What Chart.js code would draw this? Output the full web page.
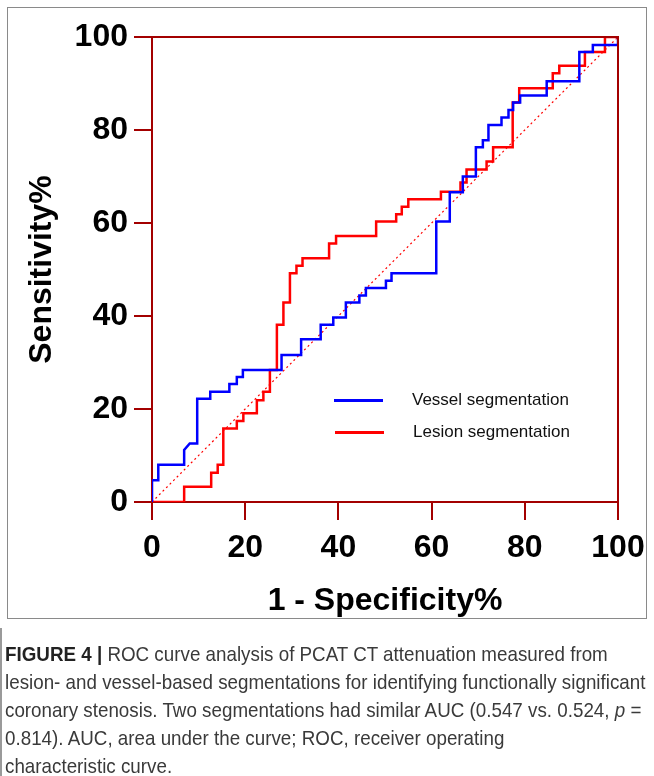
<!DOCTYPE html>
<html>
<head>
<meta charset="utf-8">
<script src="https://cdn.jsdelivr.net/npm/chart.js@4.4.1/dist/chart.umd.min.js"></script>
<style>
  html, body { margin: 0; padding: 0; background: #fff; }
  body { width: 654px; height: 776px; position: relative; overflow: hidden; }
  #frame { position: absolute; left: 7px; top: 7px; width: 640px; height: 612px; border: 1px solid #8a8a8a; box-sizing: border-box; }
  #wrap { position: absolute; left: 0; top: 0; width: 654px; height: 640px; }
  .leg { position: absolute; font-family: "Liberation Sans", Arial, sans-serif; font-size: 17px; color: #111; line-height: 20px; }
  .legline { position: absolute; height: 2.5px; }
  #capbar { position: absolute; left: 0; top: 628px; width: 2px; height: 148px; background: #9a9a9a; }
  #caption { position: absolute; left: 5px; top: 640px; width: 720px; font-family: "Liberation Sans", Arial, sans-serif; font-size: 21px; line-height: 28px; color: #3a3a3a; white-space: nowrap; transform: scaleX(0.895); transform-origin: 0 0; }
  #caption b { color: #222; }
</style>
</head>
<body>
<div id="frame"></div>
<div id="wrap"><canvas id="c" width="654" height="640"></canvas></div>
<div class="legline" style="left:334px; top:399px; width:49px; background:#0000ff;"></div>
<div class="leg" style="left:412px; top:390px;">Vessel segmentation</div>
<div class="legline" style="left:335px; top:431px; width:49px; background:#ff0000;"></div>
<div class="leg" style="left:413px; top:422px;">Lesion segmentation</div>
<div id="capbar"></div>
<div id="caption">
<div><b>FIGURE 4 |</b> ROC curve analysis of PCAT CT attenuation measured from</div>
<div>lesion- and vessel-based segmentations for identifying functionally significant</div>
<div>coronary stenosis. Two segmentations had similar AUC (0.547 vs. 0.524, <i>p</i> =</div>
<div>0.814). AUC, area under the curve; ROC, receiver operating</div>
<div>characteristic curve.</div>
</div>
<script>
// ---- data (1 - specificity %, sensitivity %) ----
const vesselX = [0, 0, 1.35, 1.35, 6.9, 6.9, 8.1, 9.7, 9.7, 12.5, 12.5, 16.6, 16.6, 18.2, 18.2, 19.5, 19.5, 27.8, 27.8, 32.0, 32.0, 36.2, 36.2, 38.9, 38.9, 41.6, 41.6, 44.5, 44.5, 45.9, 45.9, 50.2, 50.2, 51.4, 51.4, 61.0, 61.0, 63.9, 63.9, 66.7, 66.7, 69.5, 69.5, 71.0, 71.0, 72.2, 72.2, 75.0, 75.0, 76.5, 76.5, 77.5, 77.5, 79.0, 79.0, 84.7, 84.7, 91.7, 91.7, 94.6, 94.6, 100, 100];
const vesselY = [0, 4.7, 4.7, 8.0, 8.0, 11.2, 12.6, 12.6, 22.2, 22.2, 23.7, 23.7, 25.4, 25.4, 26.9, 26.9, 28.4, 28.4, 31.6, 31.6, 35.0, 35.0, 38.1, 38.1, 39.7, 39.7, 42.9, 42.9, 44.4, 44.4, 46.0, 46.0, 47.6, 47.6, 49.2, 49.2, 60.3, 60.3, 66.6, 66.6, 70.0, 70.0, 76.3, 76.3, 77.8, 77.8, 81.1, 81.1, 82.7, 82.7, 84.3, 84.3, 85.9, 85.9, 87.4, 87.4, 90.5, 90.5, 96.8, 96.8, 98.3, 98.3, 100];
const lesionX = [0, 6.9, 6.9, 12.7, 12.7, 14.1, 14.1, 15.3, 15.3, 18.2, 18.2, 19.6, 19.6, 22.5, 22.5, 23.9, 23.9, 25.3, 25.3, 26.8, 26.8, 28.2, 28.2, 29.6, 29.6, 31.0, 31.0, 32.3, 32.3, 38.0, 38.0, 39.5, 39.5, 48.1, 48.1, 52.4, 52.4, 53.6, 53.6, 55.0, 55.0, 62.0, 62.0, 66.2, 66.2, 67.5, 67.5, 71.8, 71.8, 73.2, 73.2, 77.4, 77.4, 78.8, 78.8, 86.0, 86.0, 87.4, 87.4, 92.9, 92.9, 97.2, 97.2, 100];
const lesionY = [0, 0, 3.3, 3.3, 6.3, 6.3, 8.0, 8.0, 15.8, 15.8, 17.4, 17.4, 19.1, 19.1, 21.9, 21.9, 23.7, 23.7, 28.4, 28.4, 38.1, 38.1, 42.9, 42.9, 49.2, 49.2, 50.8, 50.8, 52.4, 52.4, 55.6, 55.6, 57.2, 57.2, 60.3, 60.3, 61.9, 61.9, 63.5, 63.5, 65.1, 65.1, 66.7, 66.7, 68.7, 68.7, 71.5, 71.5, 73.2, 73.2, 76.3, 76.3, 85.9, 85.9, 89.0, 89.0, 92.2, 92.2, 93.8, 93.8, 96.8, 96.8, 100, 100];
const refX = [0, 100];
const refY = [0, 100];
const xTicks = [0, 20, 40, 60, 80, 100];
const yTicks = [0, 20, 40, 60, 80, 100];
const seriesNames = ["Vessel segmentation", "Lesion segmentation"];
const xTitle = "1 - Specificity%";
const yTitle = "Sensitivity%";

const zip = (xs, ys) => xs.map((x, i) => ({ x: x, y: ys[i] }));
const AXIS = '#a30000';
const FONT = '"Liberation Sans", Arial, sans-serif';

const framePlugin = {
  id: 'frameTR',
  afterDatasetsDraw(chart) {
    const { ctx, chartArea: a } = chart;
    ctx.save();
    ctx.strokeStyle = AXIS;
    ctx.lineWidth = 2;
    ctx.beginPath();
    ctx.moveTo(a.left, a.top);
    ctx.lineTo(a.right, a.top);
    ctx.lineTo(a.right, a.bottom);
    ctx.stroke();
    ctx.restore();
  }
};

new Chart(document.getElementById('c'), {
  type: 'scatter',
  data: {
    datasets: [
      { label: seriesNames[0], data: zip(vesselX, vesselY), showLine: true, borderColor: '#0000ff', borderWidth: 2.5, pointRadius: 0, fill: false, tension: 0 },
      { label: seriesNames[1], data: zip(lesionX, lesionY), showLine: true, borderColor: '#ff0000', borderWidth: 2.5, pointRadius: 0, fill: false, tension: 0 },
      { label: 'ref', data: zip(refX, refY), showLine: true, borderColor: '#ff0000', borderWidth: 1.2, borderDash: [2, 3], pointRadius: 0, fill: false }
    ]
  },
  options: {
    responsive: false,
    animation: false,
    layout: { padding: { top: 37, right: 36, left: 0, bottom: 0 } },
    plugins: { legend: { display: false }, tooltip: { enabled: false } },
    scales: {
      x: {
        type: 'linear', min: 0, max: 100,
        afterFit(s) { s.height = 138; },
        afterBuildTicks(s) { s.ticks = xTicks.map(v => ({ value: v })); },
        grid: { drawOnChartArea: false, drawTicks: true, tickLength: 18, color: AXIS, lineWidth: 2 },
        border: { display: true, color: AXIS, width: 2 },
        ticks: { color: '#000', font: { family: FONT, size: 32, weight: 'bold' }, padding: 9, maxRotation: 0 },
        title: { display: true, text: xTitle, color: '#000', font: { family: FONT, size: 32, weight: 'bold' }, padding: { top: 0, bottom: 20 } }
      },
      y: {
        type: 'linear', min: 0, max: 100,
        afterFit(s) { s.width = 152; },
        afterBuildTicks(s) { s.ticks = yTicks.map(v => ({ value: v })); },
        grid: { drawOnChartArea: false, drawTicks: true, tickLength: 18, color: AXIS, lineWidth: 2 },
        border: { display: true, color: AXIS, width: 2 },
        ticks: { color: '#000', font: { family: FONT, size: 32, weight: 'bold' }, padding: 6 },
        title: { display: true, text: yTitle, color: '#000', font: { family: FONT, size: 32, weight: 'bold' }, padding: { top: 23, bottom: 0 } }
      }
    }
  },
  plugins: [framePlugin]
});
</script>
</body>
</html>
